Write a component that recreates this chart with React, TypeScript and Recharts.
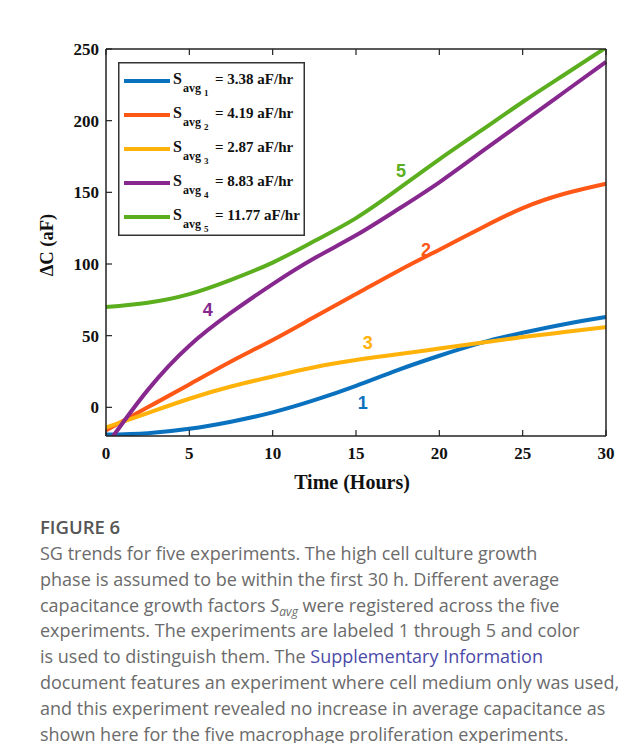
import React from "react";
import {
  LineChart,
  Line,
  XAxis,
  YAxis,
  Legend,
  ReferenceDot,
} from "recharts";

// hours
const times = [0, 2.5, 5, 7.5, 10, 12.5, 15, 17.5, 20, 22.5, 25, 27.5, 30];

// ΔC (aF) per experiment
const exp1 = [-19, -18, -15, -10, -3.5, 5, 15, 26, 36, 45, 52, 58, 63];
const exp2 = [-16, 0, 16, 32, 47, 63, 79, 95, 110, 125, 139, 149, 156];
const exp3 = [-14, -4, 6, 14.5, 21.5, 28, 33, 37, 41, 45, 49, 52.5, 56];
const exp4 = [-27, 12, 43, 66, 86, 104, 120, 138, 157, 178, 199, 220, 241];
const exp5 = [70, 73, 79, 89, 101, 116, 132, 152, 173, 193, 213, 232, 251];

const rates = ["3.38", "4.19", "2.87", "8.83", "11.77"];
const colors = ["#0A71BF", "#FF5716", "#FFB20A", "#87288F", "#5BAE1E"];

const xTicks = [0, 5, 10, 15, 20, 25, 30];
const yTicks = [0, 50, 100, 150, 200, 250];

// where the 1..5 tags sit, in data units
const tagX = [15.4, 19.2, 15.7, 6.1, 17.7];
const tagY = [3, 110, 45, 68, 165];

const rows = times.map((t, i) => ({
  t,
  e1: exp1[i],
  e2: exp2[i],
  e3: exp3[i],
  e4: exp4[i],
  e5: exp5[i],
}));

const serif = "'Liberation Serif', 'DejaVu Serif', serif";
const tickFont = { fontFamily: serif, fontWeight: "bold", fontSize: 17, fill: "#111" };

function LegendBox(props: any) {
  const payload = props.payload || [];
  return (
    <svg width={187} height={174} style={{ display: "block" }}>
      <rect x={0.75} y={0.75} width={185.5} height={172.5} fill="#fff" stroke="#333" strokeWidth={1.5} />
      {payload.map((p: any, i: number) => {
        const y = 19 + i * 34;
        return (
          <g key={i} fontFamily={serif} fontWeight="bold" fill="#111">
            <line x1={6} x2={52} y1={y} y2={y} stroke={p.color} strokeWidth={4} />
            <text x={55} y={y + 3} fontSize={16}>S</text>
            <text x={65} y={y + 11} fontSize={12}>avg</text>
            <text x={86} y={y + 15} fontSize={9}>{i + 1}</text>
            <text x={97} y={y + 3} fontSize={15}>= {rates[i]} aF/hr</text>
          </g>
        );
      })}
    </svg>
  );
}

export default function App() {
  const keys = ["e1", "e2", "e3", "e4", "e5"];
  const capStyle: React.CSSProperties = {
    fontFamily: "'Open Sans', sans-serif",
    fontSize: 18,
    color: "#6b6b6b",
    height: 25.8,
    lineHeight: "25.8px",
    whiteSpace: "nowrap",
  };
  return (
    <div style={{ position: "relative", width: 634, height: 735 }}>
      <div
        style={{
          position: "absolute",
          left: -1,
          top: -1,
          width: 700,
          height: 800,
          borderTop: "1px solid #d4d4d4",
          borderLeft: "1px solid #d4d4d4",
        }}
      />
      <div style={{ position: "absolute", left: 0, top: 0 }}>
        <LineChart
          width={620}
          height={495}
          data={rows}
          margin={{ top: 40, right: 21, bottom: 0, left: 0 }}
        >
          <XAxis
            dataKey="t"
            type="number"
            domain={[0, 30]}
            ticks={xTicks}
            height={67}
            tickSize={-6}
            tickMargin={17}
            tick={tickFont}
            axisLine={{ stroke: "#222", strokeWidth: 1.5 }}
            tickLine={{ stroke: "#222", strokeWidth: 1.2 }}
            label={{
              content: () => (
                <text x={344} y={481} textAnchor="middle" fontFamily={serif} fontWeight="bold" fontSize={20} fill="#111">
                  Time (Hours)
                </text>
              ),
            }}
          />
          <XAxis
            xAxisId="top"
            orientation="top"
            dataKey="t"
            type="number"
            domain={[0, 30]}
            ticks={xTicks}
            height={1}
            tickSize={-6}
            tickFormatter={() => ""}
            axisLine={{ stroke: "#222", strokeWidth: 1.5 }}
            tickLine={{ stroke: "#222", strokeWidth: 1.2 }}
          />
          <YAxis
            type="number"
            domain={[-20, 250]}
            ticks={yTicks}
            allowDataOverflow
            width={98}
            tickSize={-6}
            tickMargin={13}
            tick={tickFont}
            axisLine={{ stroke: "#222", strokeWidth: 1.5 }}
            tickLine={{ stroke: "#222", strokeWidth: 1.2 }}
            label={{
              content: () => (
                <text
                  x={45}
                  y={237}
                  transform="rotate(-90 45 237)"
                  textAnchor="middle"
                  fontFamily={serif}
                  fontWeight="bold"
                  fontSize={18.5}
                  fill="#111"
                >
                  ΔC (aF)
                </text>
              ),
            }}
          />
          <YAxis
            yAxisId="right"
            orientation="right"
            type="number"
            domain={[-20, 250]}
            ticks={yTicks}
            width={1}
            tickSize={-6}
            tickFormatter={() => ""}
            axisLine={{ stroke: "#222", strokeWidth: 1.5 }}
            tickLine={{ stroke: "#222", strokeWidth: 1.2 }}
          />
          <Legend
            layout="vertical"
            align="center"
            verticalAlign="middle"
            content={LegendBox}
            wrapperStyle={{ left: 110, top: 54, width: 187, height: 174 }}
          />
          {keys.map((k, i) => (
            <Line
              key={k}
              dataKey={k}
              name={`Experiment ${i + 1}`}
              type="natural"
              stroke={colors[i]}
              strokeWidth={4}
              dot={false}
              activeDot={false}
              isAnimationActive={false}
            />
          ))}
          {keys.map((k, i) => (
            <ReferenceDot
              key={"tag" + k}
              x={tagX[i]}
              y={tagY[i]}
              r={0}
              fill="none"
              stroke="none"
              label={{
                value: String(i + 1),
                position: "center",
                fill: colors[i],
                fontSize: 18,
                fontWeight: "bold",
                fontFamily: "'Liberation Sans', Arial, sans-serif",
              }}
            />
          ))}
        </LineChart>
      </div>
      <div style={{ position: "absolute", left: 32, top: 505 }}>
        <div
          style={{
            fontFamily: "'Open Sans', sans-serif",
            fontWeight: 600,
            fontSize: 18.5,
            color: "#555",
            height: 28,
            lineHeight: "28px",
          }}
        >
          FIGURE 6
        </div>
        <div style={capStyle}>SG trends for five experiments. The high cell culture growth</div>
        <div style={capStyle}>phase is assumed to be within the first 30 h. Different average</div>
        <div style={capStyle}>
          capacitance growth factors <i>S</i>
          <span style={{ fontStyle: "italic", fontSize: 12, position: "relative", top: 4 }}>avg</span> were
          registered across the five
        </div>
        <div style={capStyle}>experiments. The experiments are labeled 1 through 5 and color</div>
        <div style={capStyle}>
          is used to distinguish them. The <span style={{ color: "#4a4aa8" }}>Supplementary Information</span>
        </div>
        <div style={capStyle}>document features an experiment where cell medium only was used,</div>
        <div style={capStyle}>and this experiment revealed no increase in average capacitance as</div>
        <div style={capStyle}>shown here for the five macrophage proliferation experiments.</div>
      </div>
    </div>
  );
}
